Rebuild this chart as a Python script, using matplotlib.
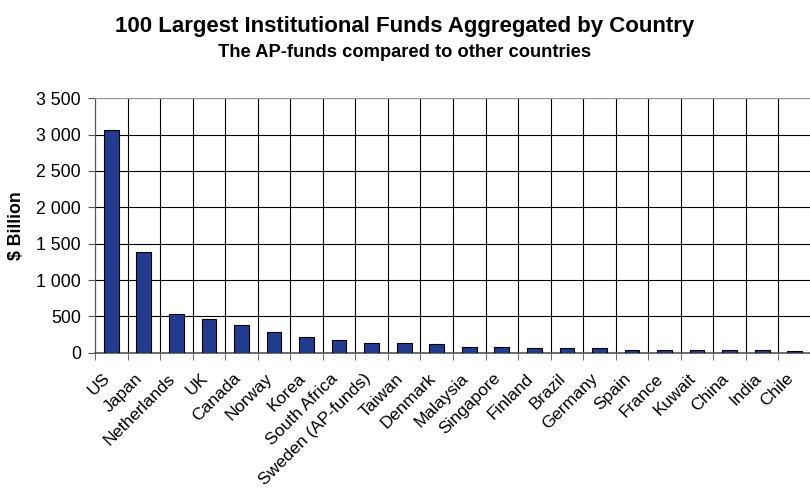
import numpy as np
import matplotlib.pyplot as plt
import matplotlib.transforms as mtransforms
from matplotlib.ticker import FuncFormatter, MultipleLocator

countries = ["US", "Japan", "Netherlands", "UK", "Canada", "Norway", "Korea",
             "South Africa", "Sweden (AP-funds)", "Taiwan", "Denmark", "Malaysia",
             "Singapore", "Finland", "Brazil", "Germany", "Spain", "France",
             "Kuwait", "China", "India", "Chile"]
billions = [3060, 1390, 528, 460, 381, 285, 212, 175, 138, 135, 116, 78,
            80, 60, 60, 58, 42, 42, 41, 40, 40, 25]

plt.rcParams['font.family'] = ['Liberation Sans', 'DejaVu Sans']

fig = plt.figure(figsize=(8.1, 4.91), dpi=100)
ax = fig.add_axes([95 / 810, 1 - 352.7 / 491, 716 / 810, 254.4 / 491])

x = np.arange(len(countries))
ax.bar(x, billions, width=0.45, color="#213B8F", edgecolor="black", linewidth=0.8, zorder=3)

ax.set_xlim(-0.5, len(countries) - 0.5)
ax.set_ylim(0, 3500)
ax.yaxis.set_major_locator(MultipleLocator(500))
ax.yaxis.set_major_formatter(FuncFormatter(lambda v, p: f"{int(v):,}".replace(",", " ")))

# gridlines: horizontal every 500, vertical at category boundaries
for b in np.arange(-0.5, len(countries), 1.0):
    ax.axvline(b, color="black", lw=0.8, zorder=1)
ax.grid(axis="y", color="black", lw=0.8, zorder=1)

ax.set_xticks(x)
ax.set_xticklabels(countries, rotation=45, ha="right", rotation_mode="anchor", fontsize=12.5)
ax.set_xticks(np.arange(-0.5, len(countries), 1.0), minor=True)
ax.tick_params(axis="x", which="major", length=0, pad=13)
ax.tick_params(axis="x", which="minor", length=5, color="#555555", direction="out")
ax.tick_params(axis="y", length=5, color="#555555", labelsize=12.8, pad=5)

# nudge the slanted labels a bit to the left, like the original
shift = mtransforms.ScaledTranslation(-9 / 100, 0, fig.dpi_scale_trans)
for lbl in ax.get_xticklabels():
    lbl.set_transform(lbl.get_transform() + shift)

ax.spines["right"].set_visible(False)
ax.spines["top"].set_color("#999999")
ax.spines["left"].set_color("#555555")
ax.spines["bottom"].set_color("#555555")
ax.spines["bottom"].set_linewidth(1.2)

ax.set_ylabel("$ Billion", fontsize=12.8, fontweight="bold", labelpad=8)

fig.text(0.5, 1 - 32 / 491, "100 Largest Institutional Funds Aggregated by Country",
         ha="center", va="baseline", fontsize=16, fontweight="bold")
fig.text(0.5, 1 - 57 / 491, "The AP-funds compared to other countries",
         ha="center", va="baseline", fontsize=13.2, fontweight="bold")

fig.savefig("out.png", dpi=100)
